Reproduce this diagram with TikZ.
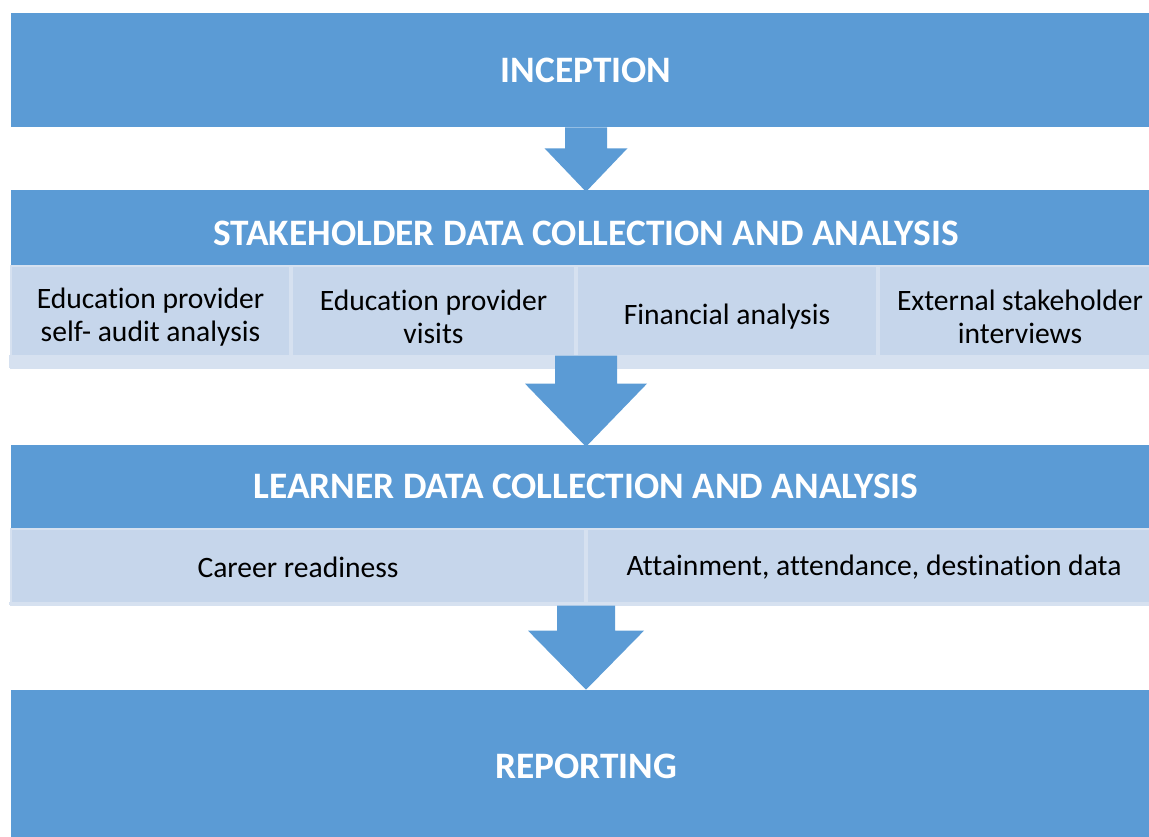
\documentclass[tikz,border=0pt]{standalone}
\usepackage{fontspec}
\setmainfont{Carlito}[Ligatures=NoCommon]
\usetikzlibrary{calc}

\definecolor{flowblue}{RGB}{91,155,213}
\definecolor{cellfill}{RGB}{198,214,235}
\definecolor{cellstrip}{RGB}{214,225,240}

\tikzset{
	bluebox/.style={fill=flowblue, inner sep=0pt, text=white, font=\fontsize{28}{32}\selectfont\bfseries},
	cellbox/.style={fill=cellfill, draw=cellstrip, line width=1pt, inner sep=0pt, align=center, font=\fontsize{22.2}{24.75}\selectfont},
	blockarrow/.style={fill=flowblue}}

\begin{document}
\begin{tikzpicture}[x=0.75pt,y=0.75pt,yscale=-1,xscale=1]
	\useasboundingbox (0,0) rectangle (1149,837);
	\clip (0,0) rectangle (1149,837);

	%Blue title boxes
	\node[bluebox, minimum width=862.5pt, minimum height=85.5pt] (inception) at (586,70) {INCEPTION};
	\node[bluebox, minimum width=862.5pt, minimum height=64.5pt] (stake) at (586,233) {STAKEHOLDER DATA COLLECTION AND ANALYSIS};
	\node[bluebox, minimum width=862.5pt, minimum height=62.25pt] (learner) at (586,486.5) {LEARNER DATA COLLECTION AND ANALYSIS};
	\node[bluebox, minimum width=862.5pt, minimum height=114pt] (reporting) at (586,766) {REPORTING};

	%Stakeholder cells
	\node[cellbox, minimum width=209.25pt, minimum height=76.5pt] (selfaudit) at (150.5,317) {Education provider\\self- audit analysis};
	\node[cellbox, minimum width=212.25pt, minimum height=76.5pt] (visits) at (433.5,317) {Education provider\\visits};
	\node[cellbox, minimum width=225pt, minimum height=76.5pt] (finance) at (727,317) {Financial analysis};
	\node[cellbox, minimum width=211.5pt, minimum height=76.5pt] (interviews) at (1020,317) {External stakeholder\\interviews};
	\fill[cellstrip] (9,355) rectangle (1161,368);

	%Learner cells
	\node[cellbox, minimum width=430.5pt, minimum height=57pt] (careers) at (298,567) {Career readiness};
	\node[cellbox, minimum width=430.5pt, minimum height=57pt] (attain) at (874,567) {Attainment, attendance, destination data};
	\fill[cellstrip] (9,602) rectangle (1161,605);

	%Block arrows
	\fill[blockarrow] ($(inception.south)+(-21,0)$) -- ++(42,0) -- ++(0,21) -- ++(20.5,0) -- ($(stake.north)+(0,2)$) -- ($(inception.south)+(-41.5,21)$) -- ++(20.5,0) -- cycle;
	\fill[blockarrow] ($(stake.center |- selfaudit.south)+(-31,-13)$) -- ++(62,0) -- ++(0,28) -- ++(30,0) -- ($(learner.north)+(0,2)$) -- ($(stake.center |- selfaudit.south)+(-61,15)$) -- ++(30,0) -- cycle;
	\fill[blockarrow] ($(learner.center |- careers.south)+(-29,0)$) -- ++(58,0) -- ++(0,25) -- ++(29,0) -- ($(reporting.north)+(0,0)$) -- ($(learner.center |- careers.south)+(-58,25)$) -- ++(29,0) -- cycle;

\end{tikzpicture}
\end{document}
